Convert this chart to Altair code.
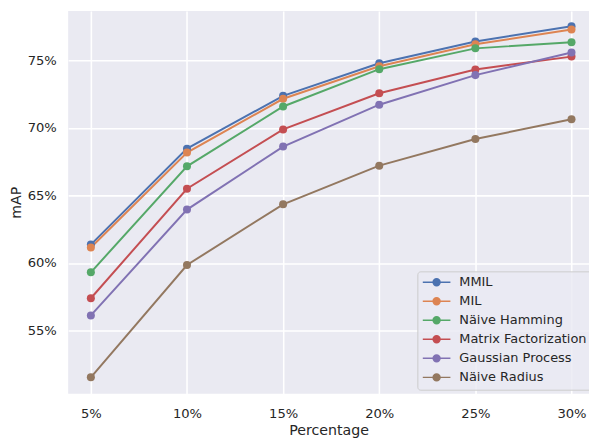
import altair as alt
import pandas as pd

percent = [5, 10, 15, 20, 25, 30]
series = ["MMIL", "MIL", "Näive Hamming", "Matrix Factorization", "Gaussian Process", "Näive Radius"]
colors = ["#4C72B0", "#DD8452", "#55A868", "#C44E52", "#8172B3", "#937860"]

mmil = [61.36, 68.46, 72.37, 74.78, 76.39, 77.51]
mil = [61.14, 68.17, 72.15, 74.56, 76.19, 77.27]
naive_hamming = [59.31, 67.15, 71.58, 74.34, 75.88, 76.34]
matrix_fact = [57.39, 65.49, 69.88, 72.56, 74.32, 75.27]
gaussian = [56.12, 63.95, 68.61, 71.71, 73.90, 75.58]
naive_radius = [51.54, 59.85, 64.34, 67.20, 69.17, 70.64]

values = [mmil, mil, naive_hamming, matrix_fact, gaussian, naive_radius]
rows = []
for i, (name, vals) in enumerate(zip(series, values)):
    for p, v in zip(percent, vals):
        rows.append({"Percentage": p, "mAP": v, "Method": name, "order": i})
df = pd.DataFrame(rows)

text_color = "#262626"

color = alt.Color(
    "Method:N",
    sort=series,
    scale=alt.Scale(domain=series, range=colors),
    legend=alt.Legend(
        title=None,
        orient="none",
        legendX=354,
        legendY=264,
        symbolType="M-1,0L1,0M0.25,0A0.25,0.25,0,1,1,-0.25,0A0.25,0.25,0,1,1,0.25,0Z",
        symbolSize=784,
        symbolStrokeWidth=1.5,
        symbolOpacity=1,
        clipHeight=13,
        rowPadding=5.3,
        padding=4.5,
        labelOffset=8,
        labelFontSize=13.1,
        labelColor=text_color,
        fillColor="rgba(234,234,242,0.8)",
        strokeColor="#CCCCCC",
        cornerRadius=3,
    ),
)

x = alt.X(
    "Percentage:Q",
    scale=alt.Scale(domain=[3.82, 30.91], nice=False, zero=False),
    axis=alt.Axis(
        values=percent,
        labelExpr="datum.value + '%'",
        title="Percentage",
        ticks=False,
        domain=False,
        labelPadding=13,
        titlePadding=4,
    ),
)
y = alt.Y(
    "mAP:Q",
    scale=alt.Scale(domain=[50.33, 78.65], nice=False, zero=False),
    axis=alt.Axis(
        values=[55, 60, 65, 70, 75],
        labelExpr="datum.value + '%'",
        title="mAP",
        ticks=False,
        domain=False,
        labelPadding=12,
        titlePadding=4,
    ),
)

base = alt.Chart(df)
lines = base.mark_line(strokeWidth=2).encode(
    x=x, y=y, color=color, detail="Method:N", order="Percentage:Q"
)
points = base.mark_point(filled=True, size=66, opacity=1).encode(
    x=x, y=y, color=color
)

chart = (
    alt.layer(lines, points)
    .properties(
        width=528,
        height=388,
        autosize="none",
        padding={"left": 61, "top": 0, "right": 0, "bottom": 43},
    )
    .configure(font="DejaVu Sans")
    .configure_view(fill="#EAEAF2", stroke=None)
    .configure_axis(
        gridColor="white",
        gridWidth=1.6,
        gridOpacity=1,
        labelFontSize=13.3,
        labelColor=text_color,
        titleFontSize=14.4,
        titleColor=text_color,
        titleFontWeight="normal",
        labelFont="DejaVu Sans",
        titleFont="DejaVu Sans",
    )
    .configure_legend(labelFont="DejaVu Sans")
)

chart.save("out.html", embed_options={"renderer": "svg", "actions": False})
